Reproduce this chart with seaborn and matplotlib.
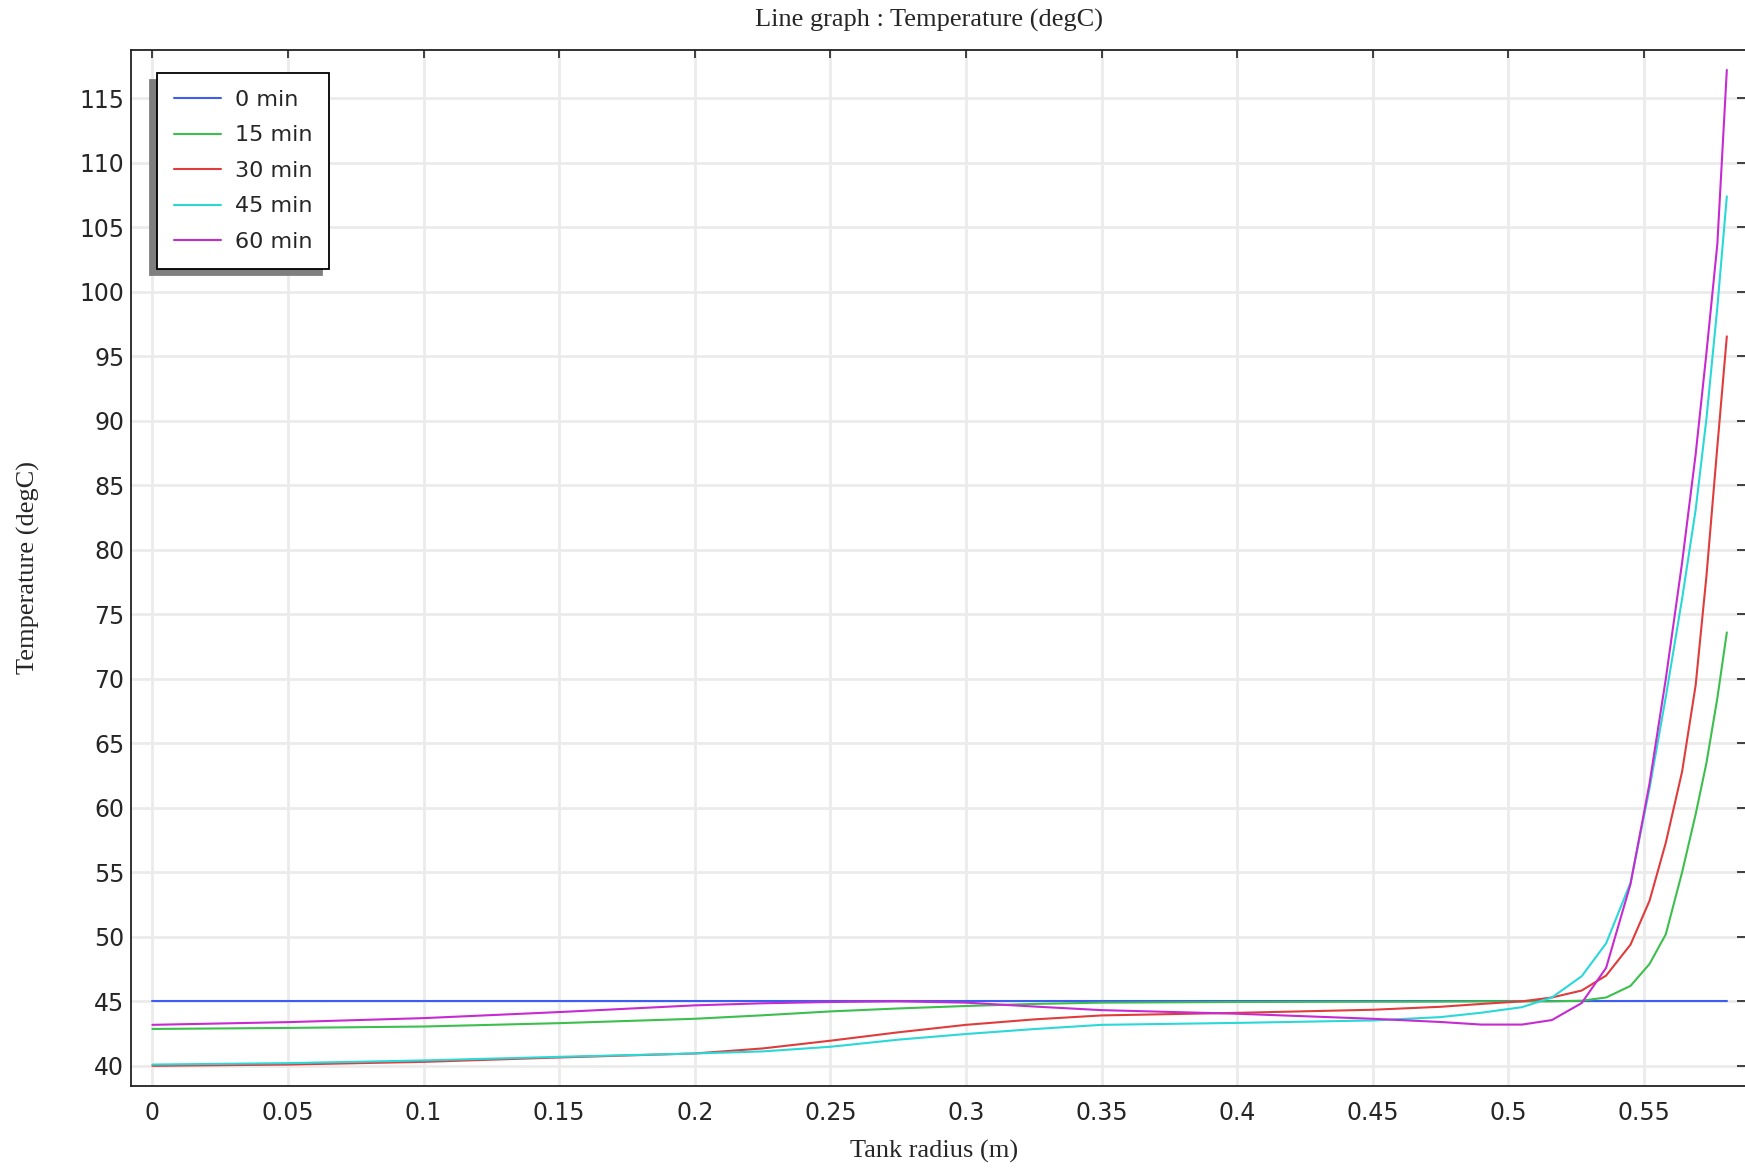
import matplotlib
matplotlib.use('Agg')
import matplotlib.pyplot as plt
import seaborn as sns
import pandas as pd

# Tank radius grid (m) shared by the 15-60 min series
RADIUS = [0.0, 0.05, 0.1, 0.15, 0.2, 0.225, 0.25, 0.275, 0.3, 0.325, 0.35,
          0.4, 0.45, 0.475, 0.49, 0.505, 0.516, 0.527, 0.536, 0.545, 0.552,
          0.558, 0.564, 0.569, 0.573, 0.577, 0.5805]

# 0 min is the uniform initial temperature
RADIUS_0 = [0.0, 0.5805]
T_0 = [45.0, 45.0]

T_15 = [42.86, 42.94, 43.05, 43.31, 43.65, 43.92, 44.22, 44.45, 44.64, 44.8, 44.9,
        44.95, 44.97, 44.98, 45.0, 45.0, 45.0, 45.05, 45.3, 46.2, 47.9,
        50.2, 55.0, 59.5, 63.5, 68.5, 73.6]
T_30 = [40.0, 40.1, 40.31, 40.65, 40.96, 41.35, 41.95, 42.6, 43.18, 43.6, 43.91,
        44.11, 44.35, 44.58, 44.8, 45.0, 45.3, 45.84, 47.0, 49.4, 52.8,
        57.3, 62.8, 69.5, 78.0, 88.0, 96.55]
T_45 = [40.1, 40.21, 40.42, 40.7, 40.96, 41.12, 41.48, 42.03, 42.47, 42.85, 43.18,
        43.33, 43.52, 43.78, 44.12, 44.55, 45.3, 46.95, 49.5, 54.2, 61.5,
        68.6, 76.2, 83.1, 90.2, 98.8, 107.4]
T_60 = [43.18, 43.39, 43.7, 44.17, 44.69, 44.85, 44.95, 45.0, 44.9, 44.6, 44.32,
        44.04, 43.65, 43.4, 43.2, 43.2, 43.55, 44.87, 47.6, 54.1, 61.9,
        70.0, 79.0, 87.4, 95.3, 103.7, 117.2]

LABELS = ['0 min', '15 min', '30 min', '45 min', '60 min']
COLORS = ['#3d5ef0', '#3cbf4c', '#e03c3c', '#2ad8d8', '#c62ad0']

X_TICKS = [0, 0.05, 0.1, 0.15, 0.2, 0.25, 0.3, 0.35, 0.4, 0.45, 0.5, 0.55]
X_TICK_LABELS = ['0', '0.05', '0.1', '0.15', '0.2', '0.25', '0.3', '0.35',
                 '0.4', '0.45', '0.5', '0.55']
Y_TICKS = [40, 45, 50, 55, 60, 65, 70, 75, 80, 85, 90, 95, 100, 105, 110, 115]


def build_frame():
    """Puts all the series into one long dataframe for seaborn"""
    frames = [pd.DataFrame({'r': RADIUS_0, 'T': T_0, 'time': LABELS[0]})]
    for label, temps in zip(LABELS[1:], [T_15, T_30, T_45, T_60]):
        frames.append(pd.DataFrame({'r': RADIUS, 'T': temps, 'time': label}))
    return pd.concat(frames, ignore_index=True)


def plotting(df):
    """Draws the line graph and saves it"""
    sns.set_theme(style='whitegrid')
    plt.rcParams['font.family'] = ['DejaVu Sans']
    fig = plt.figure(figsize=(17.45, 11.68), dpi=100)
    ax = fig.add_axes([0.0752, 0.0700, 0.9248, 0.8871])

    sns.lineplot(data=df, x='r', y='T', hue='time', hue_order=LABELS,
                 palette=COLORS, estimator=None, sort=False, linewidth=1.5,
                 ax=ax)

    ax.set_xlim(-0.0078, 0.5872)
    ax.set_ylim(38.42, 118.74)
    ax.set_xticks(X_TICKS)
    ax.set_xticklabels(X_TICK_LABELS)
    ax.set_yticks(Y_TICKS)
    ax.set_xlabel('')
    ax.set_ylabel('')

    ax.grid(True, color='#ebebeb', linewidth=2.0)
    for side in ['left', 'bottom', 'top']:
        ax.spines[side].set_visible(True)
        ax.spines[side].set_color('#222222')
        ax.spines[side].set_linewidth(1.3)
    ax.spines['right'].set_visible(False)
    ax.tick_params(axis='both', direction='in', length=6, width=1.2,
                   color='#222222', labelsize=17, labelcolor='#262626',
                   top=True, right=True)
    ax.tick_params(axis='x', pad=10.5)
    ax.tick_params(axis='y', pad=5)

    serif = ['Liberation Serif', 'DejaVu Serif']
    fig.text(0.5325, 1 - 20 / 1168, 'Line graph : Temperature (degC)',
             ha='center', va='center', fontsize=19, family=serif)
    fig.text(0.535, 1 - 1151.5 / 1168, 'Tank radius (m)',
             ha='center', va='center', fontsize=19, family=serif)
    fig.text(28 / 1745, 1 - 567 / 1168, 'Temperature (degC)', rotation=90,
             ha='center', va='center', fontsize=19, family=serif)

    handles, labels = ax.get_legend_handles_labels()
    ax.legend(handles, labels, loc='upper left', bbox_to_anchor=(0.0161, 0.9778),
              borderaxespad=0, fontsize=16, frameon=True, fancybox=False,
              framealpha=1, edgecolor='black', handlelength=2.1,
              handletextpad=0.63, labelspacing=0.7, borderpad=0.75,
              shadow={'ox': -5, 'oy': -4.7, 'facecolor': '#7f7f7f',
                      'edgecolor': '#7f7f7f', 'alpha': 1})
    ax.get_legend().get_frame().set_linewidth(1.3)

    fig.savefig('out.png', dpi=100)


def main():
    df = build_frame()
    plotting(df)


if __name__ == "__main__":
    main()
